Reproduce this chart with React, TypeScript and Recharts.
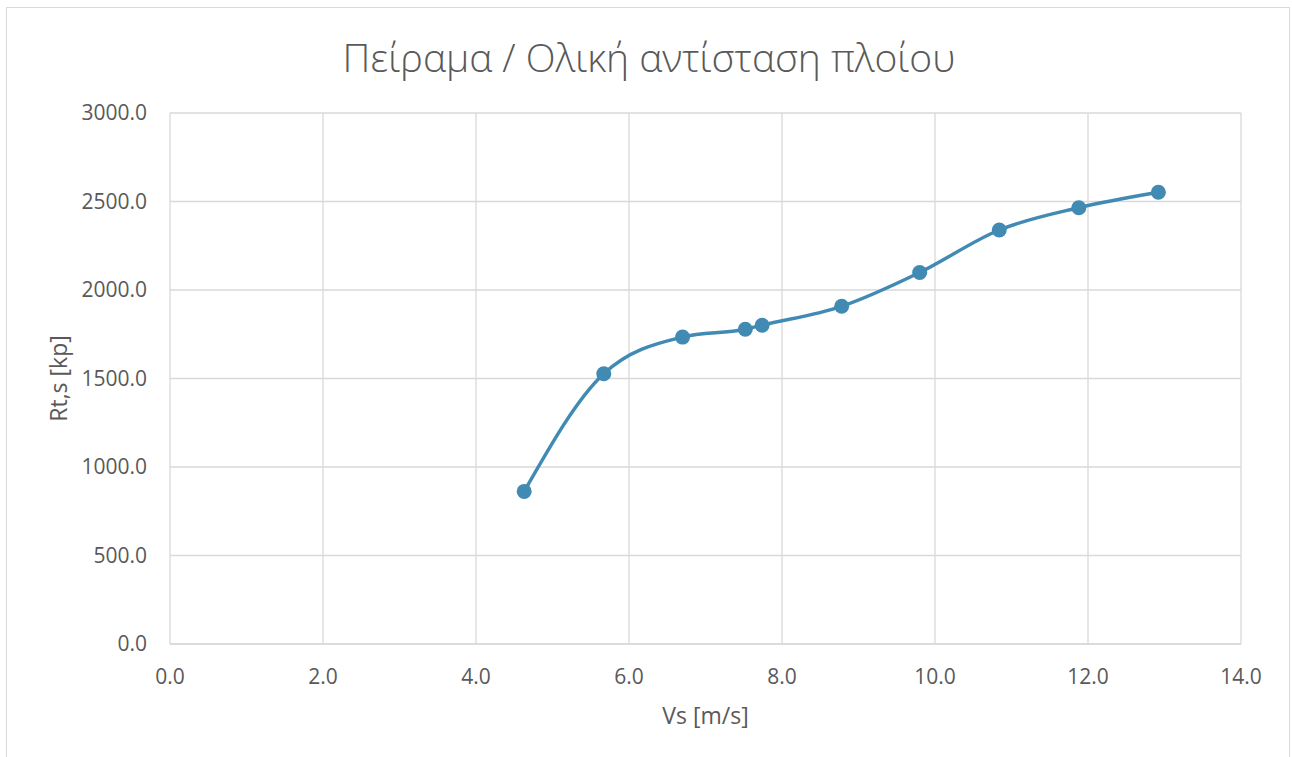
import {
  CartesianGrid,
  ComposedChart,
  Label,
  Line,
  XAxis,
  YAxis,
} from "recharts";

// ship speed (m/s) vs total resistance (kp)
const speeds = [4.63, 5.67, 6.7, 7.52, 7.74, 8.78, 9.8, 10.84, 11.88, 12.92];
const resistance = [862, 1527, 1734, 1778, 1801, 1908, 2099, 2339, 2465, 2552];

const xTicks = [0, 2, 4, 6, 8, 10, 12, 14];
const yTicks = [0, 500, 1000, 1500, 2000, 2500, 3000];

const TITLE = "Πείραμα / Ολική αντίσταση πλοίου";
const X_TITLE = "Vs [m/s]";
const Y_TITLE = "Rt,s [kp]";

const BLUE = "#418ab3";
const GRID = "#d9d9d9";
const TEXT = "#595959";
const FONT = "'Open Sans', 'Noto Sans', sans-serif";

const data = speeds.map((vs, i) => ({ vs, rt: resistance[i] }));

const fmt = (v: number) => v.toFixed(1);

export default function App() {
  return (
    <div
      style={{
        position: "absolute",
        left: 0,
        top: 0,
        width: 1292,
        height: 757,
        background: "#fff",
        fontFamily: FONT,
        overflow: "hidden",
      }}
    >
      <div
        style={{
          position: "absolute",
          left: 6,
          top: 7,
          width: 1284,
          height: 780,
          border: `1.3px solid ${GRID}`,
          boxSizing: "border-box",
        }}
      />
      <div
        style={{
          position: "absolute",
          left: 0,
          top: 33,
          width: 1298,
          textAlign: "center",
          fontSize: 39,
          fontWeight: 300,
          color: TEXT,
          lineHeight: "48px",
        }}
      >
        {TITLE}
      </div>
      <ComposedChart
        width={1292}
        height={757}
        data={data}
        margin={{ top: 113, right: 51, bottom: 53, left: 0 }}
        style={{ position: "absolute", left: 0, top: 0 }}
      >
        <CartesianGrid stroke={GRID} strokeWidth={1.3} />
        <XAxis
          type="number"
          dataKey="vs"
          domain={[0, 14]}
          ticks={xTicks}
          tickFormatter={fmt}
          height={60}
          axisLine={{ stroke: GRID, strokeWidth: 1.3 }}
          tickLine={false}
          tickSize={0}
          tickMargin={25}
          tick={{ fill: TEXT, fontSize: 21, fontFamily: FONT }}
        >
          <Label
            value={X_TITLE}
            position="bottom"
            offset={4}
            fill={TEXT}
            fontSize={23}
            fontFamily={FONT}
          />
        </XAxis>
        <YAxis
          type="number"
          domain={[0, 3000]}
          ticks={yTicks}
          tickFormatter={fmt}
          width={170}
          axisLine={false}
          tickLine={false}
          tickSize={0}
          tickMargin={23}
          tick={{ fill: TEXT, fontSize: 21, fontFamily: FONT }}
        >
          <Label
            content={({ viewBox }: any) => {
              const cy = viewBox.y + viewBox.height / 2;
              return (
                <text
                  x={58}
                  y={cy}
                  transform={`rotate(-90, 58, ${cy})`}
                  textAnchor="middle"
                  dominantBaseline="central"
                  fill={TEXT}
                  fontSize={23}
                  fontFamily={FONT}
                >
                  {Y_TITLE}
                </text>
              );
            }}
          />
        </YAxis>
        <Line
          type="monotone"
          dataKey="rt"
          stroke={BLUE}
          strokeWidth={3.5}
          dot={{ r: 7.5, fill: BLUE, stroke: BLUE, strokeWidth: 0 }}
          activeDot={false}
          isAnimationActive={false}
        />
      </ComposedChart>
    </div>
  );
}
